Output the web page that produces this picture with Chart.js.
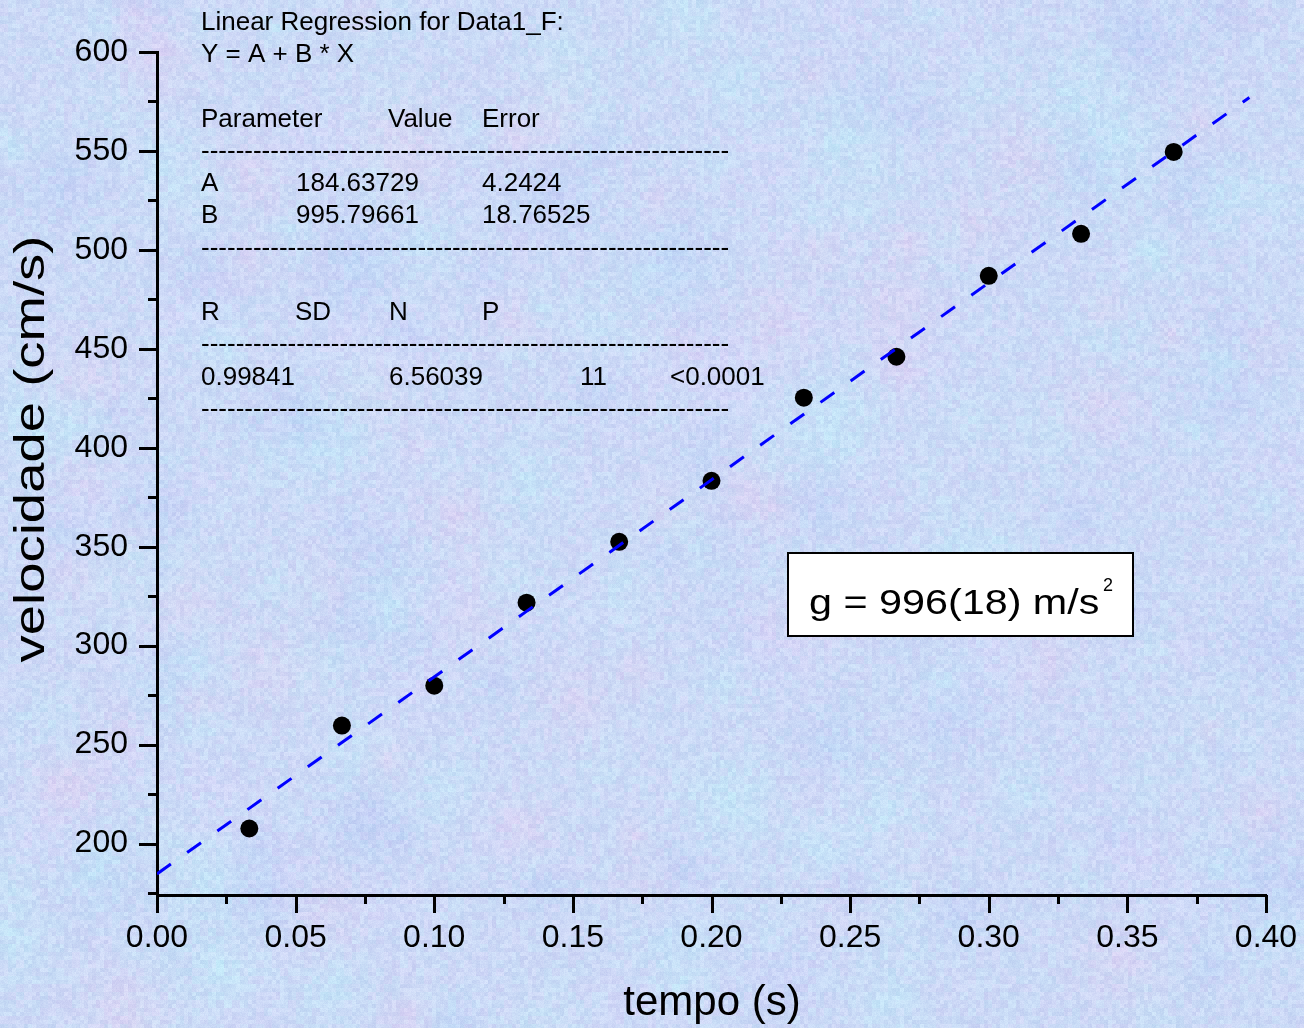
<!DOCTYPE html>
<html lang="pt">
<head>
    <meta charset="UTF-8">
    <title>velocidade x tempo</title>
    <script src="https://cdn.jsdelivr.net/npm/chart.js"></script>
    <style>
        html, body { margin: 0; padding: 0; overflow: hidden; }
        #wrap { position: relative; width: 1304px; height: 1028px; }
        #wrap canvas { position: absolute; left: 0; top: 0; }
    </style>
</head>
<body>
    <div id="wrap">
        <canvas id="paper" width="1304" height="1028"></canvas>
        <canvas id="fallChart" width="1304" height="1028"></canvas>
    </div>

    <script>
    // measured points (Data1_F)
    const tempo = [0.0333, 0.0667, 0.1000, 0.1333, 0.1667, 0.2000, 0.2333, 0.2667, 0.3000, 0.3333, 0.3667];
    const velocidade = [207.6, 259.6, 279.8, 321.7, 352.5, 383.3, 425.3, 446.0, 486.9, 508.1, 549.5];

    // fitted line Y = A + B * X, drawn from its two end points
    const fitX = [0, 0.394];
    const fitY = [184.64, 576.98];

    const xTickLabels = ['0.00', '0.05', '0.10', '0.15', '0.20', '0.25', '0.30', '0.35', '0.40'];
    const yTickLabels = ['200', '250', '300', '350', '400', '450', '500', '550', '600'];

    const regressionRows = [
        [['Linear Regression for Data1_F:', 201]],
        [['Y = A + B * X', 201]],
        [],
        [['Parameter', 201], ['Value', 388], ['Error', 482]],
        'dash',
        [['A', 201], ['184.63729', 296], ['4.2424', 482]],
        [['B', 201], ['995.79661', 296], ['18.76525', 482]],
        'dash',
        [],
        [['R', 201], ['SD', 295], ['N', 389], ['P', 482]],
        'dash',
        [['0.99841', 201], ['6.56039', 389], ['11', 580], ['<0.0001', 670]],
        'dash'
    ];

    const FONT = "'Liberation Sans', Arial, sans-serif";

    // mottled paper background (decoration only)
    function hash(x, y) {
        let h = (x * 374761393 + y * 668265263) | 0;
        h = (h ^ (h >>> 13)) * 1274126177 | 0;
        return ((h ^ (h >>> 16)) >>> 0) / 4294967295;
    }
    function paintPaper() {
        const cv = document.getElementById('paper');
        const c = cv.getContext('2d');
        const W = cv.width, H = cv.height;
        c.fillStyle = '#cbd9f6';
        c.fillRect(0, 0, W, H);
        const tints = ['rgba(190,234,248,0.5)', 'rgba(232,204,240,0.35)', 'rgba(186,204,246,0.45)', 'rgba(214,214,250,0.4)', 'rgba(196,230,246,0.45)'];
        for (let i = 0; i < 360; i++) {
            const x = hash(i, 1) * W, y = hash(i, 2) * H, r = 25 + hash(i, 3) * 70;
            const g = c.createRadialGradient(x, y, 0, x, y, r);
            g.addColorStop(0, tints[i % tints.length]);
            g.addColorStop(1, 'rgba(203,217,246,0)');
            c.fillStyle = g;
            c.fillRect(x - r, y - r, 2 * r, 2 * r);
        }
        const img = c.getImageData(0, 0, W, H);
        const d = img.data;
        for (let y = 0; y < H; y++) {
            for (let x = 0; x < W; x++) {
                const k = (y * W + x) * 4;
                const n = (hash(x >> 2, (y >> 2) + 777) - 0.5) * 16 + (hash(x, y + 9999) - 0.5) * 10;
                const t = (hash(x >> 3, (y >> 3) + 4242) - 0.5) * 12;
                d[k] += n + t * 0.6; d[k + 1] += n - t * 0.5; d[k + 2] += n * 0.5;
            }
        }
        c.putImageData(img, 0, 0);
    }
    paintPaper();

    const decor = {
        id: 'decor',
        afterDraw(chart) {
            const ctx = chart.ctx;
            const xs = chart.scales.x, ys = chart.scales.y;
            ctx.save();

            // tick marks, outward, major + minor
            ctx.strokeStyle = '#000';
            ctx.lineWidth = 3;
            ctx.beginPath();
            const xMajor = xTickLabels.map(Number);
            for (let i = 0; i < xMajor.length; i++) {
                const px = Math.round(xs.getPixelForValue(xMajor[i])) + 0.5;
                ctx.moveTo(px, xs.top); ctx.lineTo(px, xs.top + 18);
                if (i < xMajor.length - 1) {
                    const pm = Math.round(xs.getPixelForValue((xMajor[i] + xMajor[i + 1]) / 2)) + 0.5;
                    ctx.moveTo(pm, xs.top); ctx.lineTo(pm, xs.top + 9);
                }
            }
            const yMajor = yTickLabels.map(Number);
            for (let i = 0; i < yMajor.length; i++) {
                const py = Math.round(ys.getPixelForValue(yMajor[i])) + 0.5;
                ctx.moveTo(ys.right - 18, py); ctx.lineTo(ys.right, py);
                const pm = Math.round(ys.getPixelForValue(yMajor[i] - 25)) + 0.5;
                ctx.moveTo(ys.right - 9, pm); ctx.lineTo(ys.right, pm);
            }
            ctx.stroke();

            // axis titles
            ctx.fillStyle = '#000';
            ctx.textAlign = 'center';
            ctx.textBaseline = 'alphabetic';
            ctx.save();
            ctx.font = '43px ' + FONT;
            ctx.translate(44, 449);
            ctx.rotate(-Math.PI / 2);
            ctx.scale(1.267, 1);
            ctx.fillText('velocidade (cm/s)', 0, 0);
            ctx.restore();

            ctx.font = '42px ' + FONT;
            ctx.fillText('tempo (s)', 712, 1015);

            // regression report
            ctx.font = '26px ' + FONT;
            ctx.textAlign = 'left';
            const dashW = ctx.measureText('-').width;
            const dashes = '-'.repeat(Math.round(526 / dashW));
            regressionRows.forEach((row, i) => {
                const base = 20.5 + 32.25 * i + 9.3;
                if (row === 'dash') {
                    ctx.fillText(dashes, 201, base);
                } else {
                    row.forEach(([t, x]) => ctx.fillText(t, x, base));
                }
            });

            // result box
            ctx.fillStyle = '#fff';
            ctx.fillRect(787, 552, 347, 84);
            ctx.strokeStyle = '#000';
            ctx.lineWidth = 2;
            ctx.strokeRect(788, 553, 345, 83);
            ctx.fillStyle = '#000';
            ctx.save();
            ctx.font = '35px ' + FONT;
            ctx.translate(809, 614);
            ctx.scale(1.18, 1);
            ctx.fillText('g = 996(18) m/s', 0, 0);
            ctx.restore();
            ctx.font = '18px ' + FONT;
            ctx.fillText('2', 1103, 591);

            ctx.restore();
        }
    };

    const tickFont = { family: FONT, size: 32 };

    new Chart(document.getElementById('fallChart'), {
        type: 'scatter',
        data: {
            datasets: [
                {
                    type: 'line',
                    label: 'Linear fit',
                    data: fitX.map((x, i) => ({ x: x, y: fitY[i] })),
                    borderColor: '#0000ff',
                    borderWidth: 3,
                    borderDash: [17, 20],
                    pointRadius: 0,
                    fill: false,
                    tension: 0
                },
                {
                    label: 'Data1_F',
                    data: tempo.map((x, i) => ({ x: x, y: velocidade[i] })),
                    pointRadius: 9,
                    pointBackgroundColor: '#000',
                    pointBorderColor: '#000',
                    pointBorderWidth: 0,
                    showLine: false
                }
            ]
        },
        options: {
            responsive: false,
            animation: false,
            layout: { padding: { top: 52, right: 38, left: 0, bottom: 0 } },
            plugins: {
                legend: { display: false },
                tooltip: { enabled: false }
            },
            scales: {
                x: {
                    type: 'linear',
                    min: 0,
                    max: 0.4,
                    afterBuildTicks: s => { s.ticks = xTickLabels.map(v => ({ value: Number(v) })); },
                    afterFit: s => { s.height = 133; s.paddingLeft = 0; s.paddingRight = 0; },
                    grid: { display: false, drawTicks: false },
                    border: { display: true, width: 3, color: '#000' },
                    ticks: {
                        padding: 24,
                        color: '#000',
                        font: tickFont,
                        maxRotation: 0,
                        autoSkip: false,
                        callback: (v, i) => xTickLabels[i]
                    }
                },
                y: {
                    type: 'linear',
                    min: 174,
                    max: 600,
                    afterBuildTicks: s => { s.ticks = yTickLabels.map(v => ({ value: Number(v) })); },
                    afterFit: s => { s.width = 157; s.paddingTop = 0; s.paddingBottom = 0; },
                    grid: { display: false, drawTicks: false },
                    border: { display: true, width: 3, color: '#000' },
                    ticks: {
                        padding: 29,
                        color: '#000',
                        font: tickFont,
                        autoSkip: false,
                        callback: (v, i) => yTickLabels[i]
                    }
                }
            }
        },
        plugins: [decor]
    });
    </script>
</body>
</html>
